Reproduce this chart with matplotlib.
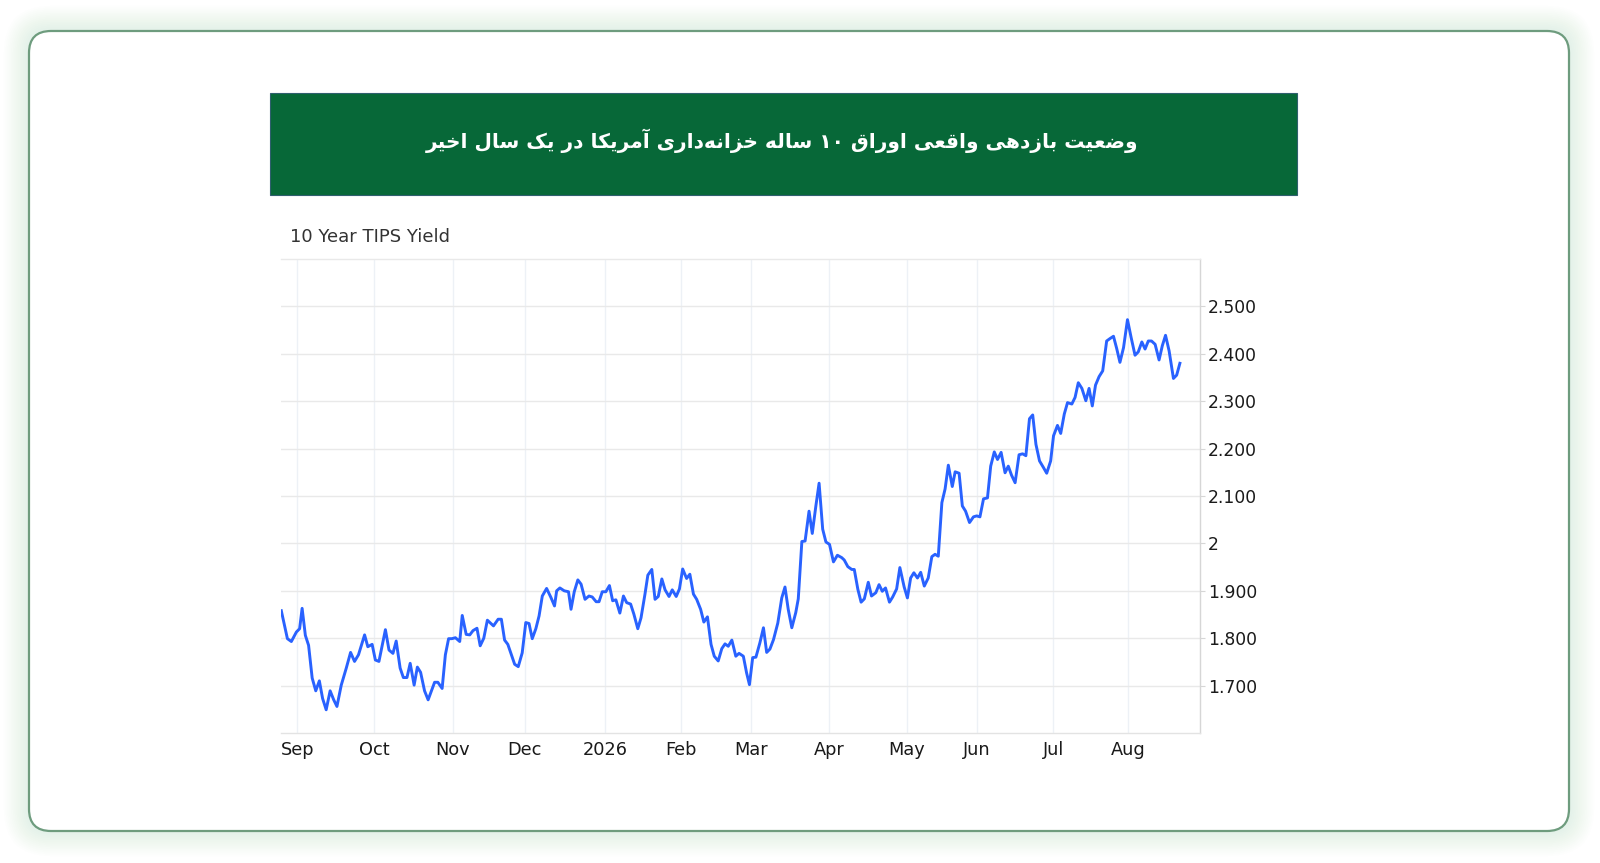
import re
import matplotlib
matplotlib.use("Agg")
import matplotlib.pyplot as plt
from matplotlib import font_manager
from matplotlib.ft2font import FT2Font
from matplotlib.patches import FancyBboxPatch, Rectangle

# ---- data -------------------------------------------------------------
title_fa = "وضعیت بازدهی واقعی اوراق ۱۰ ساله خزانه\u200cداری آمریکا در یک سال اخیر"
chart_label = "10 Year TIPS Yield"

month_labels = ["Sep", "Oct", "Nov", "Dec", "2026", "Feb", "Mar", "Apr", "May", "Jun", "Jul", "Aug"]
month_pos = [4.5, 25.9, 47.7, 67.8, 90.2, 111.2, 130.9, 152.6, 174.2, 193.7, 215.0, 235.8]

y_ticks = [1.7, 1.8, 1.9, 2.0, 2.1, 2.2, 2.3, 2.4, 2.5]
y_tick_labels = ["1.700", "1.800", "1.900", "2", "2.100", "2.200", "2.300", "2.400", "2.500"]

# trading-day position, yield (%)
days = [
    0.0, 1.7, 2.8, 4.2, 5.1, 5.8, 6.7, 7.6, 8.6, 9.6,
    10.6, 11.5, 12.5, 13.6, 14.6, 15.5, 16.7, 18.1, 19.3, 20.4,
    21.5, 23.2, 24.1, 25.3, 26.2, 27.2, 29.0, 30.0, 31.1, 32.0,
    33.1, 34.0, 35.0, 35.9, 37.0, 37.9, 38.8, 39.9, 40.9, 42.7,
    43.6, 44.8, 45.7, 46.6, 47.5, 48.5, 49.7, 50.4, 51.5, 52.5,
    53.4, 54.5, 55.4, 56.4, 57.4, 59.1, 60.4, 61.3, 62.2, 63.1,
    65.0, 66.0, 67.1, 68.1, 69.0, 69.9, 70.9, 71.8, 72.7, 73.9,
    75.1, 76.1, 76.7, 77.6, 78.8, 80.0, 80.7, 81.6, 82.6, 83.5,
    84.6, 85.7, 86.6, 87.7, 88.5, 89.4, 90.4, 91.4, 92.3, 93.2,
    94.3, 95.3, 96.2, 97.3, 98.2, 99.3, 100.2, 101.3, 102.1, 103.2,
    104.1, 105.0, 106.0, 106.9, 108.0, 108.9, 110.0, 110.9, 111.8, 112.9,
    113.8, 114.8, 115.7, 116.8, 117.7, 118.7, 119.7, 120.6, 121.7, 122.7,
    123.6, 124.5, 125.5, 126.6, 127.5, 128.7, 129.6, 130.4, 131.3, 132.2,
    133.3, 134.3, 135.2, 136.1, 137.1, 138.3, 139.4, 140.3, 141.2, 142.2,
    143.3, 144.0, 145.0, 145.9, 147.0, 147.9, 148.9, 149.8, 150.8, 151.7,
    152.7, 153.8, 154.9, 156.1, 156.8, 157.8, 158.9, 159.6, 160.6, 161.5,
    162.4, 163.5, 164.4, 165.6, 166.5, 167.4, 168.3, 169.4, 170.3, 171.4,
    172.3, 173.5, 174.4, 175.3, 176.2, 177.2, 178.1, 179.1, 180.2, 181.2,
    182.1, 183.0, 184.0, 184.9, 185.8, 186.9, 187.7, 188.8, 189.7, 190.6,
    191.7, 192.8, 193.7, 194.6, 195.6, 196.7, 197.6, 198.6, 199.5, 200.5,
    201.6, 202.5, 203.4, 204.4, 205.5, 206.5, 207.4, 208.4, 209.3, 210.2,
    211.2, 212.3, 213.2, 214.3, 215.1, 216.2, 217.1, 218.1, 219.0, 220.2,
    221.1, 222.0, 223.0, 224.1, 225.0, 225.9, 226.8, 227.8, 228.8, 229.9,
    230.8, 231.8, 232.7, 233.6, 234.6, 235.7, 236.7, 237.8, 238.7, 239.7,
    240.6, 241.5, 242.4, 243.4, 244.5, 245.4, 246.3, 247.3, 248.5, 249.4,
    250.3,
]
yld = [
    1.858, 1.799, 1.793, 1.813, 1.820, 1.863, 1.806, 1.785, 1.716, 1.689,
    1.710, 1.673, 1.649, 1.689, 1.670, 1.656, 1.701, 1.737, 1.770, 1.751,
    1.765, 1.807, 1.782, 1.787, 1.754, 1.751, 1.818, 1.775, 1.768, 1.794,
    1.737, 1.717, 1.717, 1.747, 1.701, 1.739, 1.728, 1.689, 1.670, 1.707,
    1.707, 1.694, 1.765, 1.799, 1.799, 1.801, 1.793, 1.848, 1.808, 1.807,
    1.816, 1.821, 1.784, 1.800, 1.838, 1.826, 1.840, 1.840, 1.796, 1.787,
    1.745, 1.740, 1.769, 1.833, 1.831, 1.799, 1.820, 1.847, 1.889, 1.905,
    1.886, 1.868, 1.900, 1.906, 1.900, 1.898, 1.861, 1.898, 1.923, 1.914,
    1.882, 1.889, 1.887, 1.877, 1.877, 1.898, 1.898, 1.911, 1.879, 1.881,
    1.853, 1.889, 1.875, 1.872, 1.851, 1.820, 1.843, 1.893, 1.933, 1.945,
    1.882, 1.888, 1.925, 1.902, 1.888, 1.902, 1.888, 1.904, 1.946, 1.926,
    1.935, 1.893, 1.882, 1.861, 1.834, 1.845, 1.787, 1.762, 1.752, 1.778,
    1.788, 1.783, 1.796, 1.762, 1.768, 1.762, 1.727, 1.702, 1.759, 1.760,
    1.790, 1.822, 1.770, 1.777, 1.797, 1.832, 1.885, 1.908, 1.861, 1.822,
    1.854, 1.883, 2.004, 2.005, 2.068, 2.021, 2.079, 2.127, 2.030, 2.003,
    1.998, 1.961, 1.975, 1.970, 1.965, 1.951, 1.945, 1.945, 1.903, 1.876,
    1.883, 1.918, 1.889, 1.896, 1.913, 1.899, 1.906, 1.876, 1.887, 1.904,
    1.949, 1.908, 1.885, 1.927, 1.938, 1.927, 1.939, 1.910, 1.927, 1.972,
    1.977, 1.973, 2.086, 2.115, 2.165, 2.120, 2.151, 2.148, 2.079, 2.068,
    2.044, 2.056, 2.058, 2.056, 2.094, 2.096, 2.163, 2.193, 2.177, 2.192,
    2.149, 2.163, 2.144, 2.128, 2.187, 2.189, 2.185, 2.263, 2.271, 2.209,
    2.174, 2.160, 2.148, 2.174, 2.227, 2.249, 2.232, 2.273, 2.297, 2.294,
    2.308, 2.339, 2.327, 2.301, 2.327, 2.290, 2.334, 2.352, 2.364, 2.427,
    2.432, 2.437, 2.411, 2.382, 2.413, 2.472, 2.435, 2.397, 2.404, 2.425,
    2.410, 2.427, 2.427, 2.420, 2.387, 2.417, 2.439, 2.406, 2.348, 2.355,
    2.380,
]

# ---- minimal Persian shaping (matplotlib has no bidi/shaping) ----------
FORMS = {  # isolated, final, initial, medial
    "ا": (0xFE8D, 0xFE8E, None, None),
    "آ": (0xFE81, 0xFE82, None, None),
    "د": (0xFEA9, 0xFEAA, None, None),
    "ر": (0xFEAD, 0xFEAE, None, None),
    "ز": (0xFEAF, 0xFEB0, None, None),
    "و": (0xFEED, 0xFEEE, None, None),
    "ب": (0xFE8F, 0xFE90, 0xFE91, 0xFE92),
    "ت": (0xFE95, 0xFE96, 0xFE97, 0xFE98),
    "خ": (0xFEA5, 0xFEA6, 0xFEA7, 0xFEA8),
    "س": (0xFEB1, 0xFEB2, 0xFEB3, 0xFEB4),
    "ض": (0xFEBD, 0xFEBE, 0xFEBF, 0xFEC0),
    "ع": (0xFEC9, 0xFECA, 0xFECB, 0xFECC),
    "ق": (0xFED5, 0xFED6, 0xFED7, 0xFED8),
    "ک": (0xFB8E, 0xFB8F, 0xFB90, 0xFB91),
    "ل": (0xFEDD, 0xFEDE, 0xFEDF, 0xFEE0),
    "م": (0xFEE1, 0xFEE2, 0xFEE3, 0xFEE4),
    "ن": (0xFEE5, 0xFEE6, 0xFEE7, 0xFEE8),
    "ه": (0xFEE9, 0xFEEA, 0xFEEB, 0xFEEC),
    "ی": (0xFBFC, 0xFBFD, 0xFBFE, 0xFBFF),
}

title_weight = "bold"
fpath = font_manager.findfont(font_manager.FontProperties(family="DejaVu Sans", weight="bold"))
cmap = FT2Font(fpath).get_charmap()
if 0xFE8D not in cmap:
    title_weight = "normal"
    cmap = FT2Font(font_manager.findfont("DejaVu Sans")).get_charmap()
if 0xFBFD not in cmap:
    FORMS["ی"] = (0xFEEF, 0xFEF0, 0xFEF3, 0xFEF4)
if 0xFB8F not in cmap:
    FORMS["ک"] = (0xFED9, 0xFEDA, 0xFEDB, 0xFEDC)


def shape_fa(text):
    out = []
    for i, ch in enumerate(text):
        if ch == "\u200c":
            continue
        f = FORMS.get(ch)
        if f is None:
            out.append(ch)
            continue
        prev = text[i - 1] if i > 0 else ""
        nxt = text[i + 1] if i + 1 < len(text) else ""
        jp = prev in FORMS and FORMS[prev][2] is not None
        jn = f[2] is not None and nxt in FORMS
        if jp and jn:
            c = f[3]
        elif jp:
            c = f[1]
        elif jn:
            c = f[2]
        else:
            c = f[0]
        out.append(chr(c))
    vis = "".join(out)[::-1]
    return re.sub("[۰-۹0-9]+", lambda m: m.group(0)[::-1], vis)


# ---- figure -----------------------------------------------------------
W, H = 1600, 863
fig = plt.figure(figsize=(16, 8.63), dpi=100)
fig.patch.set_facecolor("white")

bg = fig.add_axes([0, 0, 1, 1])
bg.set_xlim(0, W)
bg.set_ylim(H, 0)
bg.axis("off")

# soft shadow + card
for k in range(14, 0, -1):
    bg.add_patch(FancyBboxPatch((29, 31), 1540, 800,
                                boxstyle=f"round,pad={k * 1.8},rounding_size={22 + k * 1.8}",
                                fc="#8fb39a", ec="none", alpha=0.013))
bg.add_patch(FancyBboxPatch((29, 31), 1540, 800, boxstyle="round,pad=0,rounding_size=22",
                            fc="white", ec="#6e9c7e", lw=1.6))

# green header
bg.add_patch(Rectangle((269.5, 93), 1027, 102, fc="#076838", ec="#2f5f6e", lw=0.8))
bg.text(782, 141, shape_fa(title_fa), ha="center", va="center", color="white",
        fontsize=14.5, fontweight=title_weight, family="DejaVu Sans")

bg.text(290, 237, chart_label, ha="left", va="center", fontsize=13, color="#333333")

# chart
ax = fig.add_axes([281.3 / W, 130 / H, 918.7 / W, 474 / H])
ax.set_facecolor("none")
ax.plot(days, yld, color="#2962ff", lw=2.1, solid_joinstyle="round", zorder=3)

ax.set_xlim(0, 255.9)
ax.set_ylim(1.6, 2.6)

ax.set_xticks(month_pos)
ax.set_xticklabels(month_labels)
ax.set_yticks(y_ticks)
ax.set_yticklabels(y_tick_labels)
ax.yaxis.tick_right()

ax.tick_params(axis="x", length=0, pad=6, labelsize=12.8, labelcolor="#1a1a1a")
ax.tick_params(axis="y", length=3.6, width=0.8, color="#d6d6d6", pad=2.2,
               labelsize=12.3, labelcolor="#1a1a1a")

ax.grid(axis="y", color="#e9e9e9", lw=1)
ax.grid(axis="x", color="#edf1f6", lw=1)
ax.set_axisbelow(True)

ax.spines["left"].set_visible(False)
ax.spines["top"].set_color("#e9e9e9")
ax.spines["bottom"].set_color("#e3e3e3")
ax.spines["right"].set_color("#d6d6d6")
for s in ax.spines.values():
    s.set_linewidth(1)

fig.savefig("out.png", dpi=100, facecolor="white")
